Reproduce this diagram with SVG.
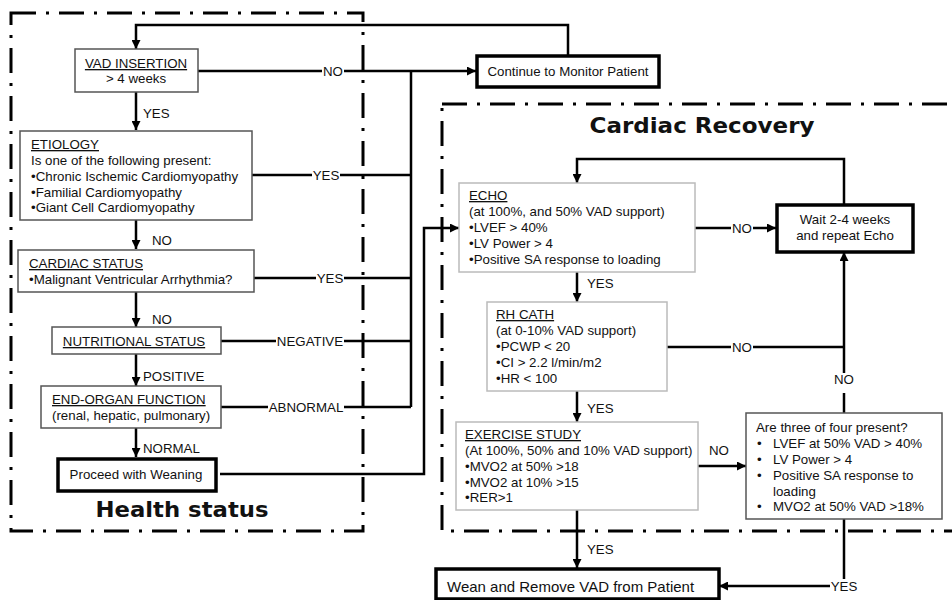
<svg xmlns="http://www.w3.org/2000/svg" width="952" height="600" viewBox="0 0 952 600">
<defs>
<marker id="arr" viewBox="0 0 10 10" refX="10" refY="5" markerWidth="9" markerHeight="9" markerUnits="userSpaceOnUse" orient="auto">
<path d="M0,0 L10,5 L0,10 z" fill="#000"/>
</marker>
<style>
text{font-family:"Liberation Sans",Arial,sans-serif;font-size:13.3px;fill:#111}
.u{text-decoration:underline}
.mid{text-anchor:middle}
.bg{fill:#fff;stroke:none}
.title{font-family:"DejaVu Sans","Liberation Sans",sans-serif;font-weight:bold;font-size:22px}
.region{fill:none;stroke:#000;stroke-width:3;stroke-dasharray:25 10 3 10}
.c{fill:none;stroke:#000;stroke-width:2.5}
.ca{fill:none;stroke:#000;stroke-width:2.5;marker-end:url(#arr)}
.box{fill:#fff;stroke:#555;stroke-width:1.5}
.lbox{fill:#fff;stroke:#bbb;stroke-width:1.5}
.tbox{fill:#fff;stroke:#000;stroke-width:3.5}
</style>
</defs>
<rect width="952" height="600" fill="#fff"/>

<g id="regions">
<rect class="region" x="11" y="13" width="352" height="518"/>
<rect class="region" x="442" y="104" width="530" height="427"/>
<text class="title" x="182" y="517" text-anchor="middle" textLength="173" lengthAdjust="spacingAndGlyphs">Health status</text>
<text class="title" x="702" y="133" text-anchor="middle" textLength="225" lengthAdjust="spacingAndGlyphs">Cardiac Recovery</text>
</g>

<g id="connectors">
<path class="ca" d="M568,55 V25 H136 V49"/>
<path class="ca" d="M136,92 V130"/>
<text x="143" y="118">YES</text>
<path class="ca" d="M198,71 H476"/>
<path class="c" d="M411,71 V407"/>
<path class="c" d="M252,175 H411"/>
<path class="ca" d="M136,220 V249"/>
<text x="152" y="245">NO</text>
<path class="c" d="M254,278 H411"/>
<path class="ca" d="M136,292 V327"/>
<text x="152" y="324">NO</text>
<path class="c" d="M221,341 H411"/>
<path class="ca" d="M136,354 V386"/>
<text x="143" y="381">POSITIVE</text>
<path class="c" d="M221,407 H411"/>
<path class="ca" d="M136,428 V457"/>
<text x="143" y="453">NORMAL</text>
<path class="ca" d="M220,474 H424 V228 H459"/>
<path class="ca" d="M695,228 H776"/>
<path class="ca" d="M844,204 V159 H577 V183"/>
<path class="ca" d="M577,272 V302"/>
<text x="587" y="288">YES</text>
<path class="c" d="M667,347 H844"/>
<path class="c" d="M844,413 V393"/>
<path class="ca" d="M844,373 V252"/>
<text class="mid" x="844" y="384">NO</text>
<path class="ca" d="M577,391 V422"/>
<text x="587" y="413">YES</text>
<path class="ca" d="M698,466 H746"/>
<text class="mid" x="719" y="455">NO</text>
<path class="ca" d="M577,510 V568"/>
<text x="587" y="554">YES</text>
<path class="ca" d="M844,519 V586 H719"/>
<rect class="bg" x="322" y="64" width="22" height="14"/>
<text class="mid" x="333" y="76">NO</text>
<rect class="bg" x="312" y="168" width="28" height="14"/>
<text class="mid" x="326" y="180">YES</text>
<rect class="bg" x="316" y="271" width="28" height="14"/>
<text class="mid" x="330" y="283">YES</text>
<rect class="bg" x="276" y="334" width="68" height="14"/>
<text class="mid" x="310" y="346">NEGATIVE</text>
<rect class="bg" x="268" y="400" width="76" height="14"/>
<text class="mid" x="306" y="412">ABNORMAL</text>
<rect class="bg" x="731" y="221" width="22" height="14"/>
<text class="mid" x="742" y="233">NO</text>
<rect class="bg" x="731" y="340" width="22" height="14"/>
<text class="mid" x="742" y="352">NO</text>
<rect class="bg" x="830" y="579" width="28" height="14"/>
<text class="mid" x="844" y="591">YES</text>
</g>

<g id="vad-insertion">
<rect class="box" x="75" y="49" width="123" height="43"/>
<text class="mid u" x="136" y="68">VAD INSERTION</text>
<text class="mid" x="136" y="83">&gt; 4 weeks</text>
</g>

<g id="etiology">
<rect class="box" x="20" y="131" width="232" height="89"/>
<text class="u" x="31" y="149">ETIOLOGY</text>
<text x="31" y="165">Is one of the following present:</text>
<text x="31" y="181">•Chronic Ischemic Cardiomyopathy</text>
<text x="31" y="197">•Familial Cardiomyopathy</text>
<text x="31" y="212">•Giant Cell Cardiomyopathy</text>
</g>

<g id="cardiac-status">
<rect class="box" x="18" y="250" width="236" height="42"/>
<text class="u" x="29" y="268">CARDIAC STATUS</text>
<text x="29" y="284">•Malignant Ventricular Arrhythmia?</text>
</g>

<g id="nutritional-status">
<rect class="box" x="52" y="327" width="169" height="27"/>
<text class="mid u" x="134" y="346">NUTRITIONAL STATUS</text>
</g>

<g id="end-organ-function">
<rect class="box" x="41" y="386" width="180" height="42"/>
<text class="u" x="52" y="404">END-ORGAN FUNCTION</text>
<text x="52" y="420">(renal, hepatic, pulmonary)</text>
</g>

<g id="proceed-with-weaning">
<rect class="tbox" x="58" y="459" width="158" height="32"/>
<text class="mid" x="136" y="479">Proceed with Weaning</text>
</g>

<g id="continue-monitor">
<rect class="tbox" x="477" y="56" width="182" height="31"/>
<text class="mid" x="568" y="76">Continue to Monitor Patient</text>
</g>

<g id="echo">
<rect class="lbox" x="459" y="183" width="236" height="89"/>
<text class="u" x="469" y="200">ECHO</text>
<text x="469" y="216">(at 100%, and 50% VAD support)</text>
<text x="469" y="232">•LVEF &gt; 40%</text>
<text x="469" y="248">•LV Power &gt; 4</text>
<text x="469" y="264">•Positive SA response to loading</text>
</g>

<g id="wait">
<rect class="tbox" x="777" y="205" width="136" height="47"/>
<text class="mid" x="845" y="224">Wait 2-4 weeks</text>
<text class="mid" x="845" y="240">and repeat Echo</text>
</g>

<g id="rh-cath">
<rect class="lbox" x="487" y="302" width="180" height="89"/>
<text class="u" x="496" y="319">RH CATH</text>
<text x="496" y="335">(at 0-10% VAD support)</text>
<text x="496" y="351">•PCWP &lt; 20</text>
<text x="496" y="367">•CI &gt; 2.2 l/min/m2</text>
<text x="496" y="383">•HR &lt; 100</text>
</g>

<g id="exercise-study">
<rect class="lbox" x="456" y="422" width="242" height="88"/>
<text class="u" x="465" y="439">EXERCISE STUDY</text>
<text x="465" y="455">(At 100%, 50% and 10% VAD support)</text>
<text x="465" y="471">•MVO2 at 50% &gt;18</text>
<text x="465" y="487">•MVO2 at 10% &gt;15</text>
<text x="465" y="502">•RER&gt;1</text>
</g>

<g id="three-of-four">
<rect class="box" x="746" y="413" width="196" height="106"/>
<text x="756" y="432">Are three of four present?</text>
<text x="757" y="448">•</text><text x="773" y="448">LVEF at 50% VAD &gt; 40%</text>
<text x="757" y="464">•</text><text x="773" y="464">LV Power &gt; 4</text>
<text x="757" y="480">•</text><text x="773" y="480">Positive SA response to</text>
<text x="773" y="496">loading</text>
<text x="757" y="511">•</text><text x="773" y="511">MVO2 at 50% VAD &gt;18%</text>
</g>

<g id="wean-remove">
<rect class="tbox" x="436" y="569" width="283" height="30"/>
<text x="447" y="592" style="font-size:15px">Wean and Remove VAD from Patient</text>
</g>
</svg>
